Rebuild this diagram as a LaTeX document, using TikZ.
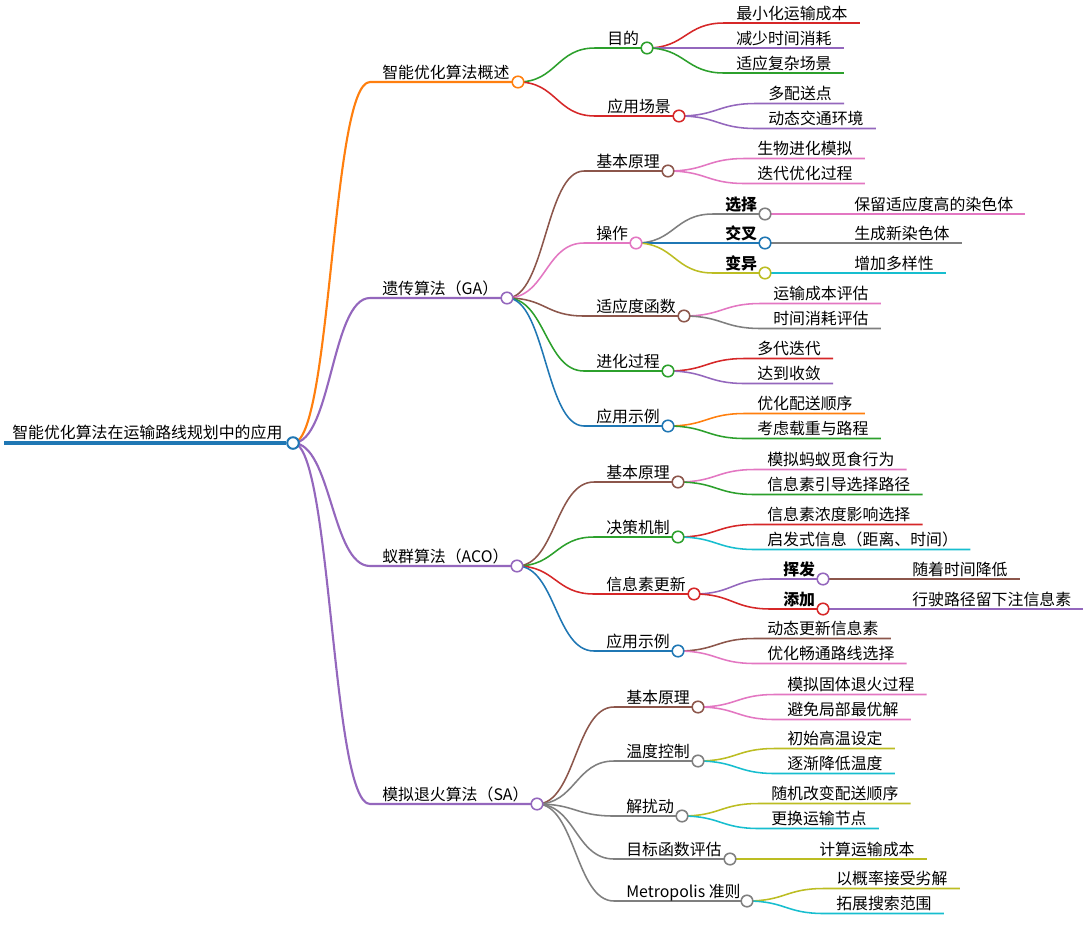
\documentclass[tikz,border=0pt]{standalone}
\usepackage{fontspec}
\setmainfont{Noto Sans CJK SC}
\usetikzlibrary{calc}

\definecolor{mmblue}{HTML}{1F77B4}
\definecolor{mmorange}{HTML}{FF7F0E}
\definecolor{mmgreen}{HTML}{2CA02C}
\definecolor{mmred}{HTML}{D62728}
\definecolor{mmpurple}{HTML}{9467BD}
\definecolor{mmbrown}{HTML}{8C564B}
\definecolor{mmpink}{HTML}{E377C2}
\definecolor{mmgray}{HTML}{7F7F7F}
\definecolor{mmolive}{HTML}{BCBD22}
\definecolor{mmcyan}{HTML}{17BECF}

\pgfdeclarelayer{links}
\pgfsetlayers{links,main}

% branch: [link style] name, parent, colour, line start x, y, circle x, text
\newcommand\mmbranch[8][]{%
  \coordinate (#2-s) at (#5,#6);
  \node[dot, draw=#4] (#2) at (#7,#6) {};
  \node[lbl] (#2-t) at ($(#2-s)+(12,-4)$) {#8};
  \begin{pgfonlayer}{links}
    \draw[link, #4, #1] let \p1=(#3.center), \p2=(#2-s) in
      (\p1) .. controls ({(\x1+\x2)/2},\y1) and ({(\x1+\x2)/2},\y2) .. (\p2) -- (#2.center);
  \end{pgfonlayer}
}
% leaf: name, parent, colour, line start x, y, text
\newcommand\mmleaf[6]{%
  \coordinate (#1-s) at (#4,#5);
  \node[lbl] (#1) at ($(#1-s)+(12,-4)$) {#6};
  \coordinate (#1-e) at ($(#1.east |- #1-s)+(12,0)$);
  \begin{pgfonlayer}{links}
    \draw[link, #3] let \p1=(#2.center), \p2=(#1-s) in
      (\p1) .. controls ({(\x1+\x2)/2},\y1) and ({(\x1+\x2)/2},\y2) .. (\p2) -- (#1-e);
  \end{pgfonlayer}
}

\begin{document}
\begin{tikzpicture}[x=0.025cm, y=-0.025cm,
    dot/.style={circle, fill=white, line width=1.1pt, minimum size=0.29cm, inner sep=0pt},
    lbl/.style={anchor=base west, inner sep=0pt, font=\fontsize{11.3}{13}\selectfont},
    link/.style={line width=1.1pt},
    wide/.style={line width=1.5pt}]
  \begin{pgfonlayer}{links}
    \fill[white] (0,0) rectangle (1087,942);
  \end{pgfonlayer}
  \useasboundingbox (0,0) rectangle (1087,942);

  % root
  \coordinate (root-s) at (4,443);
  \node[dot, draw=mmblue, line width=1.4pt] (root) at (293,443) {};
  \node[lbl] (root-t) at (12,438.5) {智能优化算法在运输路线规划中的应用};
  \begin{pgfonlayer}{links}
    \draw[mmblue, line width=2.2pt] (root-s) -- (root);
  \end{pgfonlayer}

  % overview
  \mmbranch[wide]{ov}{root}{mmorange}{370}{82}{518}{智能优化算法概述}
  \mmbranch{ovgoal}{ov}{mmgreen}{595}{48}{647}{目的}
  \mmleaf{ovgoal1}{ovgoal}{mmred}{724}{23}{最小化运输成本}
  \mmleaf{ovgoal2}{ovgoal}{mmpurple}{724}{48}{减少时间消耗}
  \mmleaf{ovgoal3}{ovgoal}{mmgreen}{724}{73}{适应复杂场景}
  \mmbranch{ovscene}{ov}{mmred}{595}{116}{679}{应用场景}
  \mmleaf{ovscene1}{ovscene}{mmpurple}{756}{103.5}{多配送点}
  \mmleaf{ovscene2}{ovscene}{mmpurple}{756}{128.5}{动态交通环境}

  % GA
  \mmbranch[wide]{ga}{root}{mmpurple}{370}{298}{507}{遗传算法（GA）}
  \mmbranch{gabase}{ga}{mmbrown}{584}{171}{668}{基本原理}
  \mmleaf{gabase1}{gabase}{mmpink}{745}{158.5}{生物进化模拟}
  \mmleaf{gabase2}{gabase}{mmpink}{745}{183.5}{迭代优化过程}
  \mmbranch{gaop}{ga}{mmpink}{584}{243}{636}{操作}
  \mmbranch{gasel}{gaop}{mmgray}{713}{214}{765}{\textbf{选择}}
  \mmleaf{gasel1}{gasel}{mmpink}{842}{214}{保留适应度高的染色体}
  \mmbranch{gacross}{gaop}{mmblue}{713}{243}{765}{\textbf{交叉}}
  \mmleaf{gacross1}{gacross}{mmgray}{842}{243}{生成新染色体}
  \mmbranch{gamut}{gaop}{mmolive}{713}{273}{765}{\textbf{变异}}
  \mmleaf{gamut1}{gamut}{mmcyan}{842}{273}{增加多样性}
  \mmbranch{gafit}{ga}{mmbrown}{584}{316}{684}{适应度函数}
  \mmleaf{gafit1}{gafit}{mmpink}{761}{303.5}{运输成本评估}
  \mmleaf{gafit2}{gafit}{mmgray}{761}{328.5}{时间消耗评估}
  \mmbranch{gaevo}{ga}{mmgreen}{584}{371}{668}{进化过程}
  \mmleaf{gaevo1}{gaevo}{mmred}{745}{358.5}{多代迭代}
  \mmleaf{gaevo2}{gaevo}{mmpurple}{745}{383.5}{达到收敛}
  \mmbranch{gaapp}{ga}{mmblue}{584}{426}{668}{应用示例}
  \mmleaf{gaapp1}{gaapp}{mmorange}{745}{413.5}{优化配送顺序}
  \mmleaf{gaapp2}{gaapp}{mmgreen}{745}{438.5}{考虑载重与路程}

  % ACO
  \mmbranch[wide]{aco}{root}{mmpurple}{370}{566}{517}{蚁群算法（ACO）}
  \mmbranch{acobase}{aco}{mmbrown}{594}{482}{678}{基本原理}
  \mmleaf{acobase1}{acobase}{mmpink}{755}{469.5}{模拟蚂蚁觅食行为}
  \mmleaf{acobase2}{acobase}{mmgreen}{755}{494.5}{信息素引导选择路径}
  \mmbranch{acodec}{aco}{mmgreen}{594}{537}{678}{决策机制}
  \mmleaf{acodec1}{acodec}{mmred}{755}{524.5}{信息素浓度影响选择}
  \mmleaf{acodec2}{acodec}{mmcyan}{755}{549.5}{启发式信息（距离、时间）}
  \mmbranch{acoupd}{aco}{mmred}{594}{594}{694}{信息素更新}
  \mmbranch{acoevap}{acoupd}{mmpurple}{771}{579}{823}{\textbf{挥发}}
  \mmleaf{acoevap1}{acoevap}{mmbrown}{900}{579}{随着时间降低}
  \mmbranch{acoadd}{acoupd}{mmred}{771}{609}{823}{\textbf{添加}}
  \mmleaf{acoadd1}{acoadd}{mmpurple}{900}{609}{行驶路径留下注信息素}
  \mmbranch{acoapp}{aco}{mmblue}{594}{651}{678}{应用示例}
  \mmleaf{acoapp1}{acoapp}{mmbrown}{755}{638.5}{动态更新信息素}
  \mmleaf{acoapp2}{acoapp}{mmpink}{755}{663.5}{优化畅通路线选择}

  % SA
  \mmbranch[wide]{sa}{root}{mmpurple}{370}{804}{537}{模拟退火算法（SA）}
  \mmbranch{sabase}{sa}{mmbrown}{614}{707}{698}{基本原理}
  \mmleaf{sabase1}{sabase}{mmpink}{775}{694.5}{模拟固体退火过程}
  \mmleaf{sabase2}{sabase}{mmpink}{775}{719.5}{避免局部最优解}
  \mmbranch{satemp}{sa}{mmgray}{614}{761}{698}{温度控制}
  \mmleaf{satemp1}{satemp}{mmolive}{775}{748.5}{初始高温设定}
  \mmleaf{satemp2}{satemp}{mmcyan}{775}{773.5}{逐渐降低温度}
  \mmbranch{sapert}{sa}{mmgray}{614}{816}{682}{解扰动}
  \mmleaf{sapert1}{sapert}{mmolive}{759}{803.5}{随机改变配送顺序}
  \mmleaf{sapert2}{sapert}{mmcyan}{759}{828.5}{更换运输节点}
  \mmbranch{saobj}{sa}{mmgray}{614}{859}{730}{目标函数评估}
  \mmleaf{saobj1}{saobj}{mmolive}{807}{859}{计算运输成本}
  \mmbranch{sametro}{sa}{mmgray}{614}{901}{747}{Metropolis 准则}
  \mmleaf{sametro1}{sametro}{mmolive}{824}{888.5}{以概率接受劣解}
  \mmleaf{sametro2}{sametro}{mmcyan}{824}{913.5}{拓展搜索范围}
\end{tikzpicture}
\end{document}
